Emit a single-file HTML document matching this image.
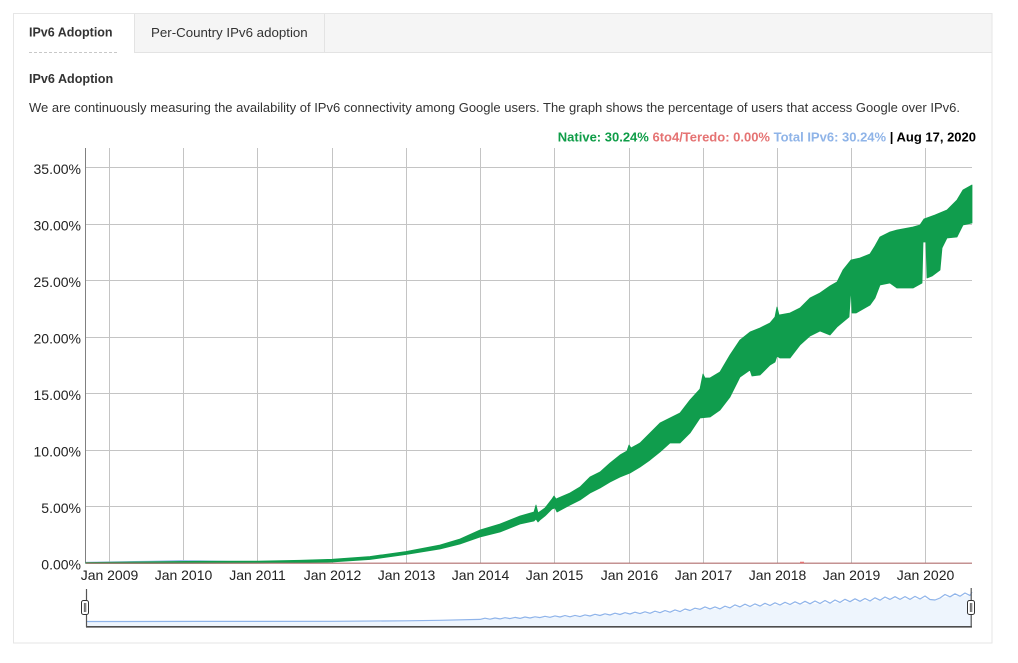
<!DOCTYPE html>
<html><head><meta charset="utf-8">
<style>
html,body{margin:0;padding:0;background:#fff;}
svg{display:block;}
</style></head>
<body>
<svg width="1018" height="663" viewBox="0 0 1018 663" xmlns="http://www.w3.org/2000/svg" font-family="Liberation Sans, Arial, sans-serif">
  <!-- panel -->
  <rect x="13.5" y="13.5" width="978.5" height="629.5" fill="#fff" stroke="#e6e6e6"/>
  <rect x="14" y="14" width="977.5" height="38" fill="#f5f5f5"/>
  <line x1="134" y1="52.5" x2="991.5" y2="52.5" stroke="#e3e3e3"/>
  <rect x="14" y="14" width="120" height="39" fill="#fff"/>
  <line x1="134.5" y1="14" x2="134.5" y2="52" stroke="#e3e3e3"/>
  <line x1="324.5" y1="14" x2="324.5" y2="52" stroke="#e3e3e3"/>
  <line x1="29" y1="52.5" x2="119" y2="52.5" stroke="#c8c8c8" stroke-dasharray="3,2"/>
  <text x="29" y="36.5" font-size="12.5" font-weight="bold" fill="#333">IPv6 Adoption</text>
  <text x="151" y="37" font-size="13.3" fill="#333">Per-Country IPv6 adoption</text>

  <text x="29" y="83" font-size="12.6" font-weight="bold" fill="#333">IPv6 Adoption</text>
  <text x="29" y="112" font-size="13" fill="#333">We are continuously measuring the availability of IPv6 connectivity among Google users. The graph shows the percentage of users that access Google over IPv6.</text>

  <text x="976" y="141.5" font-size="13" font-weight="bold" text-anchor="end"><tspan fill="#0f9d48">Native: 30.24%</tspan> <tspan fill="#e57373">6to4/Teredo: 0.00%</tspan> <tspan fill="#8fb4e8">Total IPv6: 30.24%</tspan> <tspan fill="#000">| Aug 17, 2020</tspan></text>

  <!-- grid -->
  <g stroke="#c4c4c4" stroke-width="1">
    <line x1="86" y1="167.5" x2="972" y2="167.5"/>
    <line x1="86" y1="224.5" x2="972" y2="224.5"/>
    <line x1="86" y1="280.5" x2="972" y2="280.5"/>
    <line x1="86" y1="337.5" x2="972" y2="337.5"/>
    <line x1="86" y1="393.5" x2="972" y2="393.5"/>
    <line x1="86" y1="450.5" x2="972" y2="450.5"/>
    <line x1="86" y1="506.5" x2="972" y2="506.5"/>
    <line x1="109.5" y1="148" x2="109.5" y2="563"/>
    <line x1="183.5" y1="148" x2="183.5" y2="563"/>
    <line x1="257.5" y1="148" x2="257.5" y2="563"/>
    <line x1="332.5" y1="148" x2="332.5" y2="563"/>
    <line x1="406.5" y1="148" x2="406.5" y2="563"/>
    <line x1="480.5" y1="148" x2="480.5" y2="563"/>
    <line x1="554.5" y1="148" x2="554.5" y2="563"/>
    <line x1="629.5" y1="148" x2="629.5" y2="563"/>
    <line x1="703.5" y1="148" x2="703.5" y2="563"/>
    <line x1="777.5" y1="148" x2="777.5" y2="563"/>
    <line x1="851.5" y1="148" x2="851.5" y2="563"/>
    <line x1="925.5" y1="148" x2="925.5" y2="563"/>
  </g>
  <line x1="85.5" y1="148" x2="85.5" y2="563.5" stroke="#808080"/>

  <!-- y labels -->
  <g font-size="14" fill="#222" text-anchor="end">
    <text x="81" y="174">35.00%</text>
    <text x="81" y="230.5">30.00%</text>
    <text x="81" y="287">25.00%</text>
    <text x="81" y="343.5">20.00%</text>
    <text x="81" y="400">15.00%</text>
    <text x="81" y="456.5">10.00%</text>
    <text x="81" y="513">5.00%</text>
    <text x="81" y="569.5">0.00%</text>
  </g>
  <!-- x labels -->
  <g font-size="14" fill="#222" text-anchor="middle">
    <text x="109.5" y="580">Jan 2009</text>
    <text x="183.5" y="580">Jan 2010</text>
    <text x="257.5" y="580">Jan 2011</text>
    <text x="332.5" y="580">Jan 2012</text>
    <text x="406.5" y="580">Jan 2013</text>
    <text x="480.5" y="580">Jan 2014</text>
    <text x="554.5" y="580">Jan 2015</text>
    <text x="629.5" y="580">Jan 2016</text>
    <text x="703.5" y="580">Jan 2017</text>
    <text x="777.5" y="580">Jan 2018</text>
    <text x="851.5" y="580">Jan 2019</text>
    <text x="925.5" y="580">Jan 2020</text>
  </g>

  <!-- early blue total line -->
  <polyline fill="none" stroke="#9bbbe8" stroke-width="1.2" points="86,562.3 120,561.8 150,561.3 180,560.6 200,560.9 230,561.5 258,561.6 300,561"/>

  <!-- native green band -->
  <polygon fill="#109d4d" stroke="#109d4d" stroke-width="0.8" stroke-linejoin="round" points="
86,562.5 150,561.8 200,561.3 258,561.2 300,560.3 332,559.3 370,556.5 406,551.5 440,545 460,539 480,530 500,524 520,516 534,512 536,505 538,513 545,508 552,499 554,496 556,499 570,493 580,487 590,477 600,472 610,463 620,455 627,451 629,445 631,448 640,443 650,433 660,423 670,418 680,413 690,400 700,389 703,374 705,378 710,378 720,372 730,355 740,340 750,332 760,328 770,323 775,317 777,307 779,315 790,313 800,308 810,298 820,293 830,286 837,282 843,270 847,265 851,260 860,258 870,254 875,246 880,237 890,232 897,230 913,227 920,225 924,219 935,215 947,210 957,200 963,190 972,185
972,223 963,225 957,237 947,238 942,248 940,270 932,276 927,278 926,242 923,242 922,283 913,288 897,288 890,283 880,285 875,298 870,305 856,313 852,313 851,288 849,317 843,322 837,327 830,335 820,331 810,336 800,345 790,358 780,358 777,356 775,362 770,365 760,375 752,376 750,370 740,377 730,397 720,410 710,417 700,418 690,433 680,443 670,443 660,452 650,460 640,467 630,473 620,477 610,482 600,488 590,493 580,500 570,505 557,512 555,508 552,509 545,516 540,520 538,522 536,519 534,521 520,524 500,532 480,537 460,544 440,549 406,554.5 370,559.5 332,562 300,562.8 258,563.2 150,563.5 86,563.5"/>

  <!-- zero (6to4) line -->
  <line x1="86" y1="563.2" x2="972" y2="563.2" stroke="#b06e6e" stroke-width="1.2"/>
  <line x1="800" y1="562.5" x2="804" y2="562.5" stroke="#e57373" stroke-width="1.5"/>

  <!-- range selector -->
  <polygon fill="#eef5fd" points="86,621.5 200,621.4 258,621.4 332,621.3 406,620.8 440,620.3 480,619.4 520,618.4 554,617.2 580,616.6 600,615.5 629,614 650,613.3 680,611.6 703,609 720,608.9 740,606.9 760,606.1 777,605.1 800,604.1 830,603.2 851,601.6 870,601 890,599.4 910,599.4 925,598.8 935,600 945,597 972,595 972,626.5 86,626.5"/>
  <polyline fill="none" stroke="#8fb4ea" stroke-width="1.2" stroke-linejoin="round" points="86,621.5 200,621.4 258,621.4 332,621.3 406,620.8 440,620.3 480,619.4 485,618.2 490,619.2 495,618 500,618.9 505,617.7 510,618.6 515,617.4 520,618.4 525,617 530,618 535,616.8 540,617.6 545,616.3 550,617.3 555,615.9 560,617 565,615.6 570,616.8 575,615.4 580,616.6 585,614.9 590,616 595,614.3 600,615.5 605,613.8 610,615 615,613.2 620,614.5 625,612.7 630,614 635,612.2 640,613.6 645,611.8 650,613.3 655,611.2 660,612.7 665,610.6 670,612.2 675,609.9 680,611.6 685,609 690,610.5 695,608.2 700,609.3 705,606.9 710,608.9 715,606.9 720,608.9 725,606.2 730,607.9 735,604.9 740,606.9 745,604.2 750,606.5 755,603.9 760,606.1 765,603.3 770,605.5 775,602.8 780,605 785,602.3 790,604.5 795,601.8 800,604.1 805,601.3 810,603.8 815,601 820,603.5 825,600.5 830,603.2 835,600 840,602.4 845,599.3 850,601.7 855,598.8 860,601.3 865,598.5 870,601 875,597.8 880,600.2 885,597 890,599.4 895,596.7 900,599.4 905,596.6 910,599.4 915,596.4 920,599 925,596 930,599.5 935,600 940,598 945,594.5 950,596.8 955,593.8 960,596.2 965,593 970,595.5 972,592"/>
  <line x1="86" y1="626.8" x2="972" y2="626.8" stroke="#4d4d4d" stroke-width="1.6"/>
  <line x1="86.5" y1="589" x2="86.5" y2="627" stroke="#555" stroke-width="1.2"/>
  <line x1="971.2" y1="588" x2="971.2" y2="627" stroke="#555" stroke-width="1.2"/>
  <rect x="81.5" y="600.5" width="7" height="14" rx="2" fill="#fff" stroke="#333"/>
  <line x1="84.3" y1="603" x2="84.3" y2="612" stroke="#333" stroke-width="0.8"/>
  <line x1="85.8" y1="603" x2="85.8" y2="612" stroke="#333" stroke-width="0.8"/>
  <rect x="967.5" y="600.5" width="7" height="14" rx="2" fill="#fff" stroke="#333"/>
  <line x1="970.3" y1="603" x2="970.3" y2="612" stroke="#333" stroke-width="0.8"/>
  <line x1="971.8" y1="603" x2="971.8" y2="612" stroke="#333" stroke-width="0.8"/>
</svg>
</body></html>
